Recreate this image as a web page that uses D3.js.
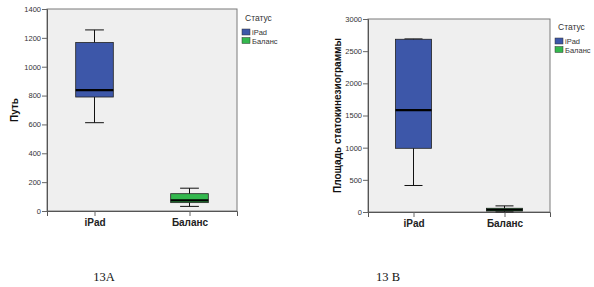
<!DOCTYPE html>
<html>
<head>
<meta charset="utf-8">
<script src="https://cdn.jsdelivr.net/npm/d3@7"></script>
<style>
  body { margin: 0; background: #fff; }
  svg text { font-family: "Liberation Sans", Arial, sans-serif; }
</style>
</head>
<body>
<div id="chart"></div>
<script>
// Categories and legend.
const categories = ['iPad', 'Баланс'];
const legendTitle = 'Статус';
const colors = ['#3d57a9', '#34b84e'];

// Box stats per category: [min, q1, median, q3, max].
const pathStats = [[612, 790, 838, 1168, 1255], [32, 58, 74, 120, 158]];
const areaStats = [[412, 990, 1585, 2685, 2690], [2, 15, 35, 58, 95]];

// Axis ticks.
const pathTicks = [0, 200, 400, 600, 800, 1000, 1200, 1400];
const areaTicks = [0, 500, 1000, 1500, 2000, 2500, 3000];

const panels = [
    {stats: pathStats, ticks: pathTicks, max: 1400, title: 'Путь', caption: '13A',
     left: 47, right: 237, top: 9, bottom: 211, titleX: 14, legendX: 242, legendY: 21, captionX: 104},
    {stats: areaStats, ticks: areaTicks, max: 3000, title: 'Площадь статокинезиограммы', caption: '13 B',
     left: 368, right: 550, top: 19, bottom: 212, titleX: 337, legendX: 555, legendY: 30, captionX: 388}
];

const svg = d3.select('#chart')
    .append('svg')
        .attr('width', 594)
        .attr('height', 287);

panels.forEach(p => {
    const g = svg.append('g');

    const x = d3.scalePoint()
        .domain(categories)
        .range([p.left, p.right])
        .padding(0.5);
    const y = d3.scaleLinear()
        .domain([0, p.max])
        .range([p.bottom, p.top]);
    const boxW = (p.right - p.left) * 0.198;

    // Plot background.
    g.append('rect')
        .attr('x', p.left).attr('y', p.top)
        .attr('width', p.right - p.left).attr('height', p.bottom - p.top)
        .attr('fill', '#efefef')
        .attr('stroke', '#7a7a7a')
        .attr('stroke-width', 1);

    // Y axis.
    const yAxis = g.append('g')
        .attr('transform', `translate(${p.left},0)`)
        .call(d3.axisLeft(y).tickValues(p.ticks).tickFormat(d3.format('d')).tickSize(5).tickPadding(1));
    yAxis.select('.domain').attr('stroke', '#555');
    yAxis.selectAll('.tick line').attr('stroke', '#666');
    yAxis.selectAll('text')
        .style('font-size', '7.5px')
        .attr('fill', '#333');

    // X axis.
    const xAxis = g.append('g')
        .attr('transform', `translate(0,${p.bottom})`)
        .call(d3.axisBottom(x).tickSize(5).tickPadding(3));
    xAxis.select('.domain').attr('stroke', '#555');
    xAxis.selectAll('.tick line').attr('stroke', '#666');
    xAxis.selectAll('text')
        .style('font-size', '10px')
        .style('font-weight', 'bold')
        .attr('fill', '#222');

    // Y axis title.
    g.append('text')
        .attr('transform', `translate(${p.titleX},${(p.top + p.bottom) / 2}) rotate(-90)`)
        .attr('text-anchor', 'middle')
        .attr('dy', '0.35em')
        .style('font-size', '10px')
        .style('font-weight', 'bold')
        .attr('fill', '#111')
        .text(p.title);

    // Boxes: whisker, caps, box, median.
    p.stats.forEach((d, i) => {
        const cx = x(categories[i]);
        g.append('line')
            .attr('x1', cx).attr('x2', cx)
            .attr('y1', y(d[0])).attr('y2', y(d[4]))
            .attr('stroke', '#111');
        [d[0], d[4]].forEach(v => {
            g.append('line')
                .attr('x1', cx - boxW / 4).attr('x2', cx + boxW / 4)
                .attr('y1', y(v)).attr('y2', y(v))
                .attr('stroke', '#111');
        });
        g.append('rect')
            .attr('x', cx - boxW / 2)
            .attr('y', y(d[3]))
            .attr('width', boxW)
            .attr('height', y(d[1]) - y(d[3]))
            .attr('fill', colors[i])
            .attr('stroke', '#222').attr('stroke-width', 0.8);
        g.append('line')
            .attr('x1', cx - boxW / 2).attr('x2', cx + boxW / 2)
            .attr('y1', y(d[2])).attr('y2', y(d[2]))
            .attr('stroke', '#000').attr('stroke-width', 2.2);
    });

    // Legend.
    g.append('text')
        .attr('x', p.legendX + 3).attr('y', p.legendY)
        .style('font-size', '8.5px')
        .attr('fill', '#333')
        .text(legendTitle);
    categories.forEach((c, i) => {
        g.append('rect')
            .attr('x', p.legendX).attr('y', p.legendY + 8 + i * 8.5)
            .attr('width', 8).attr('height', 6)
            .attr('fill', colors[i])
            .attr('stroke', '#333').attr('stroke-width', 0.5);
        g.append('text')
            .attr('x', p.legendX + 10).attr('y', p.legendY + 14 + i * 8.5)
            .style('font-size', '7.5px')
            .attr('fill', '#333')
            .text(c);
    });

    // Caption below the chart.
    g.append('text')
        .attr('x', p.captionX).attr('y', 281)
        .attr('text-anchor', 'middle')
        .style('font-family', '"Liberation Serif", "DejaVu Serif", serif')
        .style('font-size', '12.5px')
        .attr('fill', '#111')
        .text(p.caption);
});
</script>
</body>
</html>
